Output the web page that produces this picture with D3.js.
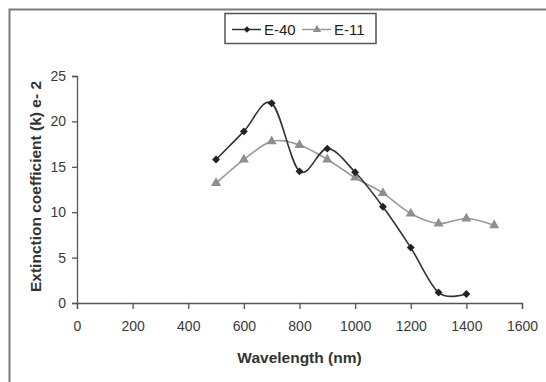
<!DOCTYPE html>
<html>
<head>
<meta charset="utf-8">
<script src="https://cdn.jsdelivr.net/npm/d3@7"></script>
<style>
  body { margin: 0; background: #fff; }
  text { font-family: "Liberation Sans", Arial, sans-serif; }
</style>
</head>
<body>
<div id="chart"></div>
<script>
// data
const wavelength = [500, 600, 700, 800, 900, 1000, 1100, 1200, 1300, 1400, 1500];
const e40 = [15.8, 18.9, 22.0, 14.5, 17.0, 14.4, 10.6, 6.1, 1.15, 1.0];
const e11 = [13.2, 15.8, 17.8, 17.4, 15.8, 13.8, 12.1, 9.85, 8.75, 9.3, 8.55];
const xTicks = [0, 200, 400, 600, 800, 1000, 1200, 1400, 1600];
const yTicks = [0, 5, 10, 15, 20, 25];

const width = 546, height = 382;
const margin = {top: 76, right: 24, bottom: 79, left: 77};

const svg = d3.select('#chart').append('svg')
  .attr('width', width)
  .attr('height', height);

// outer frame (only left/top edges visible)
svg.append('rect')
  .attr('x', 9.5).attr('y', 9.5)
  .attr('width', 600).attr('height', 500)
  .attr('fill', 'none')
  .attr('stroke', '#7a7a7a')
  .attr('stroke-width', 2);

const x = d3.scaleLinear().domain([0, 1600]).range([margin.left, width - margin.right]);
const y = d3.scaleLinear().domain([0, 25]).range([height - margin.bottom, margin.top]);

const xAxis = svg.append('g')
  .attr('transform', 'translate(0,' + y(0) + ')')
  .call(d3.axisBottom(x).tickValues(xTicks).tickFormat(d3.format('d'))
    .tickSize(6).tickSizeOuter(6).tickPadding(12));

const yAxis = svg.append('g')
  .attr('transform', 'translate(' + x(0) + ',0)')
  .call(d3.axisLeft(y).tickValues(yTicks).tickFormat(d3.format('d'))
    .tickSize(5).tickSizeOuter(5).tickPadding(6));

[xAxis, yAxis].forEach(function(g) {
  g.select('.domain').attr('stroke', '#555').attr('stroke-width', 1.3);
  g.selectAll('.tick line').attr('stroke', '#555').attr('stroke-width', 1.3);
  g.selectAll('.tick text').attr('fill', '#3a3a3a').style('font-size', '14px');
});

svg.append('text')
  .attr('x', (x(0) + x(1600)) / 2)
  .attr('y', 363)
  .attr('text-anchor', 'middle')
  .style('font-size', '15.5px')
  .style('font-weight', 'bold')
  .attr('fill', '#333')
  .text('Wavelength  (nm)');

svg.append('text')
  .attr('transform', 'translate(41,' + (y(12.5) - 3) + ') rotate(-90)')
  .attr('text-anchor', 'middle')
  .style('font-size', '15.5px')
  .style('font-weight', 'bold')
  .attr('fill', '#333')
  .text('Extinction coefficient (k) e- 2');

const line = d3.line()
  .x(function(d) { return x(d[0]); })
  .y(function(d) { return y(d[1]); })
  .curve(d3.curveCardinal.tension(0));

const s40 = e40.map(function(v, i) { return [wavelength[i], v]; });
const s11 = e11.map(function(v, i) { return [wavelength[i], v]; });

svg.append('path').datum(s11)
  .attr('d', line)
  .attr('fill', 'none')
  .attr('stroke', '#9a9a9a')
  .attr('stroke-width', 1.6);

svg.append('path').datum(s40)
  .attr('d', line)
  .attr('fill', 'none')
  .attr('stroke', '#333')
  .attr('stroke-width', 1.6);

const tri = d3.symbol().type(d3.symbolTriangle).size(44);
const dia = d3.symbol().type(d3.symbolDiamond2).size(40);

svg.selectAll('.m11').data(s11).enter().append('path')
  .attr('class', 'm11')
  .attr('transform', function(d) { return 'translate(' + x(d[0]) + ',' + y(d[1]) + ')'; })
  .attr('d', tri)
  .attr('fill', '#8f8f8f');

svg.selectAll('.m40').data(s40).enter().append('path')
  .attr('class', 'm40')
  .attr('transform', function(d) { return 'translate(' + x(d[0]) + ',' + y(d[1]) + ')'; })
  .attr('d', dia)
  .attr('fill', '#222');

// legend
const legend = svg.append('g');
legend.append('rect')
  .attr('x', 225).attr('y', 13.5)
  .attr('width', 151).attr('height', 30)
  .attr('fill', '#fff')
  .attr('stroke', '#555')
  .attr('stroke-width', 1.5);

const items = [
  {name: 'E-40', color: '#333', mark: '#222', sym: d3.symbol().type(d3.symbolDiamond2).size(26), x0: 232},
  {name: 'E-11', color: '#9a9a9a', mark: '#8f8f8f', sym: d3.symbol().type(d3.symbolTriangle).size(30), x0: 302}
];
items.forEach(function(it) {
  legend.append('line')
    .attr('x1', it.x0).attr('x2', it.x0 + 29)
    .attr('y1', 29.5).attr('y2', 29.5)
    .attr('stroke', it.color).attr('stroke-width', 1.5);
  legend.append('path')
    .attr('transform', 'translate(' + (it.x0 + 15) + ',29.5)')
    .attr('d', it.sym)
    .attr('fill', it.mark);
  legend.append('text')
    .attr('x', it.x0 + 32).attr('y', 34.5)
    .style('font-size', '15px')
    .attr('fill', '#222')
    .text(it.name);
});
</script>
</body>
</html>
